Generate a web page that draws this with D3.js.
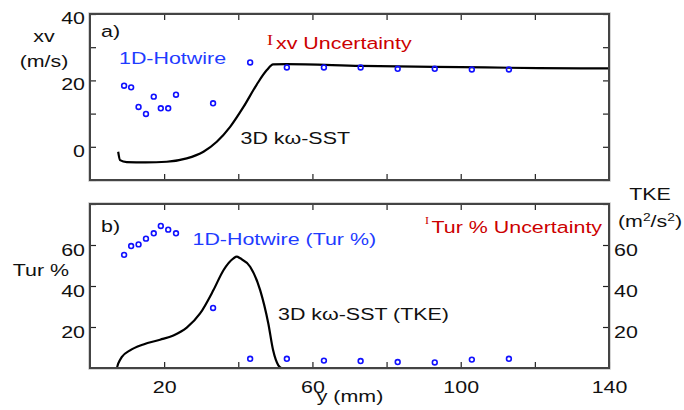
<!DOCTYPE html>
<html>
<head>
<meta charset="utf-8">
<script src="https://cdn.jsdelivr.net/npm/d3@7/dist/d3.min.js"></script>
<style>
  html, body { margin: 0; padding: 0; background: #fff; }
  svg { display: block; }
  text { font-family: "Liberation Sans", Arial, sans-serif; }
</style>
</head>
<body>
<svg id="chart" width="684" height="410"></svg>
<script>
// Spanwise position y (mm) of the hot-wire stations
const hotwireY = [9.2, 11.1, 13.1, 15.1, 17.2, 19.1, 21.1, 23.2, 33.2, 43.2, 53.1, 63.1, 73.0, 83.0, 93.0, 103.0, 113.0];
// Measured velocity xv (m/s)
const hotwireXv = [18.4, 17.9, 12.0, 9.9, 15.1, 11.6, 11.6, 15.7, 13.1, 25.4, 23.9, 23.9, 23.9, 23.5, 23.5, 23.3, 23.3];
// Measured turbulence intensity (%)
const hotwireTur = [55.2, 59.5, 60.3, 63.1, 65.7, 69.3, 67.5, 65.7, 29.3, 4.5, 4.5, 3.6, 3.4, 2.9, 2.7, 4.1, 4.5];

// 3D k-omega SST profile: velocity xv (m/s)
const cfdXvY = [7.6, 8.1, 9.9, 15.0, 20.7, 26.1, 30.6, 34.2, 37.8, 41.4, 44.9, 47.7, 49.4, 53.0, 73.0, 100.0, 121.0, 140.0];
const cfdXv  = [-1.5, -4.0, -4.6, -4.7, -4.5, -3.5, -1.5, 1.5, 6.0, 12.0, 18.6, 23.1, 24.8, 24.9, 24.4, 24.0, 23.7, 23.6];

// 3D k-omega SST profile: TKE (m^2/s^2)
const cfdTkeY = [0, 7.2, 7.6, 8.55, 10.8, 14.4, 18.9, 22.5, 26.1, 29.7, 33.3, 36.0, 38.7, 39.6, 40.5, 43.2, 45.9, 48.1, 49.4, 50.8, 51.7, 140];
const cfdTke  = [0, 0, 2.1, 5.3, 8.6, 11.5, 13.8, 15.9, 19.7, 26.6, 38.0, 47.7, 53.5, 54.3, 53.5, 49.4, 38.0, 21.7, 8.6, 1.3, 0, 0];

// Axis ticks
const xTicks = [20, 40, 60, 80, 100, 120];
const xTickLabels = [20, 60, 100, 140];
const xvTicks = [-10, 0, 10, 20, 30, 40];
const xvTickLabels = [0, 20, 40];
const turTicks = [20, 40, 60, 80];
const turTickLabels = [20, 40, 60];

const STRETCH = 1.26;   // horizontal text widening
const FS = 17;
const blueText = "#1f3cff";
const blueMark = "#1010ff";
const redText = "#cc0000";

const svg = d3.select("#chart");

const x = d3.scaleLinear().domain([0, 140]).range([90, 609]);
const yA = d3.scaleLinear().domain([-10, 40]).range([180, 14]);
const yB = d3.scaleLinear().domain([0, 80]).range([368, 204]);

// place a widened text label
function label(g, str, px, py, opts = {}) {
  const t = g.append("text")
    .attr("transform", `translate(${px},${py}) scale(${opts.stretch || STRETCH},1)`)
    .attr("font-size", opts.size || FS)
    .attr("fill", opts.fill || "#111")
    .attr("text-anchor", opts.anchor || "start");
  if (opts.family) t.style("font-family", opts.family);
  t.text(str);
  return t;
}

function styleAxis(g, labelled, dx, dy, anchor) {
  g.select(".domain").remove();
  g.selectAll(".tick line").attr("stroke", "#222").attr("stroke-width", 1.2);
  g.selectAll(".tick text").each(function (d) {
    const t = d3.select(this);
    if (!labelled.includes(d)) { t.remove(); return; }
    t.attr("x", null).attr("y", null).attr("dy", null)
      .attr("transform", `translate(${dx},${dy}) scale(${STRETCH},1)`)
      .attr("text-anchor", anchor)
      .attr("font-size", FS)
      .attr("fill", "#111")
      .style("font-family", '"Liberation Sans", Arial, sans-serif');
  });
}

function frame(y0, y1) {
  svg.append("rect").attr("x", 89).attr("y", y0 - 1).attr("width", 521).attr("height", y1 - y0 + 2)
    .attr("fill", "none").attr("stroke", "#c8c8c8").attr("stroke-width", 1.5);
  svg.append("rect").attr("x", 90).attr("y", y0).attr("width", 519).attr("height", y1 - y0)
    .attr("fill", "none").attr("stroke", "#444").attr("stroke-width", 2);
}

// ---------- Panel a) velocity ----------
const gA = svg.append("g");
frame(14, 180);

gA.append("g").attr("transform", "translate(90,0)")
  .call(d3.axisLeft(yA).tickValues(xvTicks).tickSizeInner(-6).tickSizeOuter(0).tickFormat(d3.format("d")))
  .call(g => styleAxis(g, xvTickLabels, -5, 9.5, "end"));
gA.append("g").attr("transform", "translate(609,0)")
  .call(d3.axisRight(yA).tickValues(xvTicks).tickSizeInner(-6).tickSizeOuter(0))
  .call(g => styleAxis(g, [], 0, 0, "start"));
gA.append("g").attr("transform", "translate(0,14)")
  .call(d3.axisTop(x).tickValues(xTicks).tickSizeInner(-6).tickSizeOuter(0))
  .call(g => styleAxis(g, [], 0, 0, "middle"));
gA.append("g").attr("transform", "translate(0,180)")
  .call(d3.axisBottom(x).tickValues(xTicks).tickSizeInner(-6).tickSizeOuter(0))
  .call(g => styleAxis(g, [], 0, 0, "middle"));

const lineA = d3.line().x((d, i) => x(cfdXvY[i])).y(d => yA(d)).curve(d3.curveMonotoneX);
gA.append("path").datum(cfdXv).attr("d", lineA)
  .attr("fill", "none").attr("stroke", "#000").attr("stroke-width", 2.2);

gA.selectAll("circle").data(hotwireXv).join("circle")
  .attr("cx", (d, i) => x(hotwireY[i])).attr("cy", d => yA(d)).attr("r", 2.4)
  .attr("fill", "none").attr("stroke", blueMark).attr("stroke-width", 1.6);

label(gA, "a)", 101, 36.5);
label(gA, "1D-Hotwire", 119, 64, { fill: blueText });
label(gA, "I", 267, 45, { fill: redText, size: 15, family: '"Liberation Serif", serif', stretch: 1.2 });
label(gA, "xv Uncertainty", 276, 49.3, { fill: redText });
label(gA, "3D kω-SST", 240.5, 144);
label(svg, "xv", 44, 41.5, { anchor: "middle" });
label(svg, "(m/s)", 44, 66.5, { anchor: "middle" });

// ---------- Panel b) turbulence ----------
const gB = svg.append("g");
frame(204, 368);

gB.append("g").attr("transform", "translate(90,0)")
  .call(d3.axisLeft(yB).tickValues(turTicks).tickSizeInner(-6).tickSizeOuter(0).tickFormat(d3.format("d")))
  .call(g => styleAxis(g, turTickLabels, -5, 10, "end"));
gB.append("g").attr("transform", "translate(609,0)")
  .call(d3.axisRight(yB).tickValues(turTicks).tickSizeInner(-6).tickSizeOuter(0).tickFormat(d3.format("d")))
  .call(g => styleAxis(g, turTickLabels, 5, 10.5, "start"));
gB.append("g").attr("transform", "translate(0,204)")
  .call(d3.axisTop(x).tickValues(xTicks).tickSizeInner(-6).tickSizeOuter(0))
  .call(g => styleAxis(g, [], 0, 0, "middle"));
gB.append("g").attr("transform", "translate(0,368)")
  .call(d3.axisBottom(x).tickValues(xTicks.concat([140])).tickSizeInner(-6).tickSizeOuter(0).tickFormat(d3.format("d")))
  .call(g => styleAxis(g, xTickLabels, 0, 25, "middle"));

const lineB = d3.line().x((d, i) => x(cfdTkeY[i])).y(d => yB(d)).curve(d3.curveMonotoneX);
gB.append("path").datum(cfdTke).attr("d", lineB)
  .attr("fill", "none").attr("stroke", "#000").attr("stroke-width", 2.2);

gB.selectAll("circle").data(hotwireTur).join("circle")
  .attr("cx", (d, i) => x(hotwireY[i])).attr("cy", d => yB(d)).attr("r", 2.4)
  .attr("fill", "none").attr("stroke", blueMark).attr("stroke-width", 1.6);

label(gB, "b)", 101, 231.5);
label(gB, "1D-Hotwire (Tur %)", 192.5, 245, { fill: blueText });
label(gB, "I", 425, 223.5, { fill: redText, size: 10, family: '"Liberation Serif", serif', stretch: 1.2 });
label(gB, "Tur % Uncertainty", 431.5, 232.7, { fill: redText });
label(gB, "3D kω-SST (TKE)", 278, 320);
label(svg, "Tur %", 41, 276, { anchor: "middle" });
label(svg, "TKE", 650, 200, { anchor: "middle" });
const unit = label(svg, "", 650, 226.7, { anchor: "middle" });
unit.append("tspan").text("(m");
unit.append("tspan").attr("font-size", 11).attr("dy", -6).text("2");
unit.append("tspan").attr("dy", 6).text("/s");
unit.append("tspan").attr("font-size", 11).attr("dy", -6).text("2");
unit.append("tspan").attr("dy", 6).text(")");

label(svg, "y (mm)", 350, 402, { anchor: "middle" });
</script>
</body>
</html>
